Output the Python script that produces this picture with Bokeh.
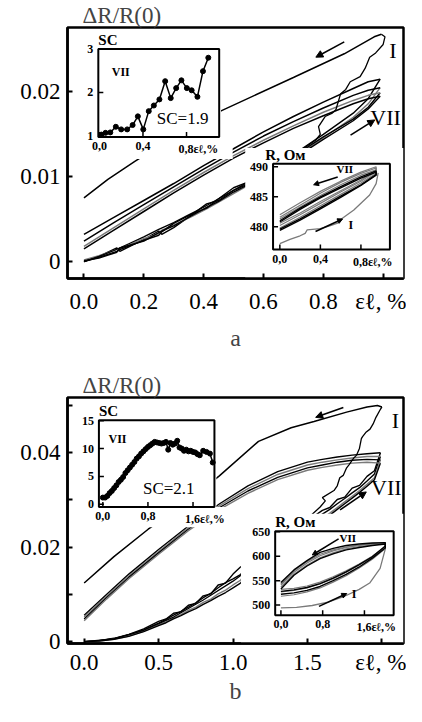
import math
from bokeh.plotting import figure
from bokeh.layouts import column
from bokeh.models import Range1d, Label, Arrow, NormalHead, FixedTicker
from bokeh.embed import file_html
from bokeh.resources import INLINE
from bokeh.core.properties import value

SERIF = "Liberation Serif"

# ===================== DATA: panel a =====================
A_X_TICKS = [0.0, 0.2, 0.4, 0.6, 0.8, 1.0]
A_X_LABELS = ["0.0", "0.2", "0.4", "0.6", "0.8", "εℓ, %"]
A_Y_TICKS = [0.0, 0.01, 0.02]
A_Y_LABELS = ["0", "0.01", "0.02"]

A_LOAD_I_X = [0.0, 0.05, 0.1, 0.15, 0.2, 0.25, 0.3, 0.35, 0.4, 0.45, 0.5, 0.6, 0.7, 0.774, 0.79,
              0.784, 0.806, 0.83, 0.842, 0.858, 0.875, 0.890, 0.923, 0.94, 0.955, 0.975, 1.0, 1.006, 0.994]
A_LOAD_I_Y = [0.0, 0.0006, 0.0013, 0.0021, 0.0029, 0.0038, 0.0046, 0.0055, 0.0064, 0.0074, 0.0084, 0.0104,
              0.0125, 0.0143, 0.0150, 0.0159, 0.0171, 0.0175, 0.0179, 0.0198, 0.0203, 0.0212, 0.0218, 0.0228,
              0.0241, 0.0246, 0.0256, 0.0265, 0.0268]
A_UNLOAD_I_X = [0.994, 0.97, 0.87, 0.7, 0.46, 0.3, 0.17, 0.08, 0.0]
A_UNLOAD_I_Y = [0.0268, 0.0265, 0.0245, 0.0217, 0.0178, 0.0147, 0.0118, 0.0097, 0.0075]

A_UNLOAD_X = [0.99, 0.95, 0.9, 0.8, 0.7, 0.6, 0.5, 0.4, 0.3, 0.2, 0.1, 0.0]
A_UNLOAD_II_Y = [0.0215, 0.0212, 0.0204, 0.0188, 0.0171, 0.0153, 0.0133, 0.0113, 0.0092, 0.0072, 0.0052, 0.0032]
A_UNLOAD_III_Y = [0.0205, 0.0202, 0.0196, 0.0181, 0.0165, 0.0148, 0.0129, 0.0109, 0.0088, 0.0067, 0.0046, 0.0024]
A_UNLOAD_V_Y = [0.0199, 0.0196, 0.0190, 0.0176, 0.0160, 0.0143, 0.0125, 0.0105, 0.0084, 0.0062, 0.0040, 0.0018]
A_UNLOAD_VII_Y = [0.0195, 0.0192, 0.0186, 0.0172, 0.0157, 0.0140, 0.0122, 0.0102, 0.0081, 0.0059, 0.0037, 0.0015]

A_LOAD_X = [0.0, 0.05, 0.11, 0.12, 0.2, 0.25, 0.26, 0.3, 0.36, 0.41, 0.45, 0.5, 0.55, 0.6, 0.7, 0.8, 0.9, 0.95, 0.99]
A_LOAD_II_Y = [0.0, 0.0006, 0.0016, 0.0012, 0.0026, 0.0036, 0.0032, 0.0040, 0.0055, 0.0068, 0.0072, 0.0084,
               0.0092, 0.0104, 0.0126, 0.0150, 0.0175, 0.0192, 0.0215]
A_LOAD_III_Y = [0.0002, 0.0007, 0.0014, 0.0015, 0.0027, 0.0033, 0.0037, 0.0043, 0.0053, 0.0062, 0.0070, 0.0080,
                0.0090, 0.0100, 0.0122, 0.0146, 0.0170, 0.0186, 0.0205]
A_LOAD_V_Y = [0.0, 0.0005, 0.0012, 0.0014, 0.0025, 0.0031, 0.0035, 0.0045, 0.0056, 0.0063, 0.0074, 0.0087,
              0.0094, 0.0102, 0.0124, 0.0147, 0.0168, 0.0182, 0.0199]
A_LOAD_VII_Y = [0.0001, 0.0004, 0.0011, 0.0016, 0.0024, 0.0034, 0.0036, 0.0042, 0.0054, 0.0064, 0.0071, 0.0082,
                0.0091, 0.0099, 0.0121, 0.0144, 0.0166, 0.0180, 0.0195]

# inset a1: SC
SCA_X = [0.018, 0.056, 0.10, 0.151, 0.20, 0.255, 0.305, 0.353, 0.403, 0.453, 0.50, 0.551, 0.604, 0.655,
         0.705, 0.753, 0.803, 0.847, 0.90, 0.951, 1.0]
SCA_Y = [1.03, 1.07, 1.08, 1.21, 1.15, 1.15, 1.25, 1.45, 1.15, 1.57, 1.70, 1.84, 2.26, 1.87, 2.10, 2.28,
         2.10, 2.05, 1.90, 2.49, 2.80]
SCA_X_TICKS = [0.0, 0.4, 0.8]
SCA_X_LABELS = ["0,0", "0,4", "0,8εℓ,%"]
SCA_Y_TICKS = [1, 2, 3]
SCA_Y_LABELS = ["1", "2", "3"]

# inset a2: R, Ohm
RA_X = [0.0, 0.2, 0.4, 0.6, 0.8, 0.95, 0.95, 0.8, 0.6, 0.4, 0.2, 0.0]
RA_G1_Y = [480.2, 482.0, 483.9, 485.8, 487.6, 489.2, 489.8, 488.9, 487.4, 485.6, 483.6, 481.6]
RA_G2_Y = [479.8, 481.6, 483.5, 485.4, 487.3, 488.9, 489.5, 488.6, 487.0, 485.2, 483.3, 481.3]
RA_G3_Y = [480.6, 482.3, 484.2, 486.0, 487.8, 489.4, 490.0, 489.1, 487.6, 485.9, 484.0, 482.0]
RA_K1_Y = [479.4, 481.1, 483.0, 484.9, 486.9, 488.6, 489.1, 488.1, 486.5, 484.8, 482.9, 480.8]
RA_K2_Y = [479.6, 481.3, 483.2, 485.1, 487.0, 488.7, 489.3, 488.3, 486.7, 485.0, 483.1, 481.0]
RA_I_X = [0.0, 0.1, 0.2, 0.25, 0.27, 0.4, 0.5, 0.57, 0.6, 0.73, 0.886, 0.95, 0.97]
RA_I_Y = [477.2, 477.9, 478.5, 478.9, 479.5, 479.7, 480.2, 480.6, 481.2, 482.8, 485.3, 487.2, 489.0]
RA_X_TICKS = [0.0, 0.4, 0.8]
RA_X_LABELS = ["0,0", "0,4", "0,8εℓ,%"]
RA_Y_TICKS = [480, 485, 490]
RA_Y_LABELS = ["480", "485", "490"]

# ===================== DATA: panel b =====================
B_X_TICKS = [0.0, 0.5, 1.0, 1.5, 2.0]
B_X_LABELS = ["0.0", "0.5", "1.0", "1.5", "εℓ, %"]
B_Y_TICKS = [0.0, 0.01, 0.02, 0.03, 0.04, 0.05]
B_Y_LABELS = ["0", "", "0.02", "", "0.04", ""]

B_LOAD_X = [0.0, 0.1, 0.2, 0.3, 0.4, 0.5, 0.55, 0.6, 0.65, 0.7, 0.75, 0.8, 0.85, 0.9, 0.95, 1.0, 1.05, 1.1,
            1.2, 1.3, 1.4, 1.5, 1.6, 1.65, 1.7, 1.75, 1.8, 1.85, 1.9, 1.95, 1.99]
B_LOAD_II_Y = [0.0, 0.0002, 0.0007, 0.0015, 0.0027, 0.0043, 0.0048, 0.0060, 0.0063, 0.0077, 0.0081, 0.0097,
               0.0101, 0.0120, 0.0124, 0.0143, 0.0158, 0.0168, 0.0190, 0.0212, 0.0234, 0.0256, 0.0278, 0.0284,
               0.0301, 0.0306, 0.0325, 0.0331, 0.0350, 0.0362, 0.0400]
B_LOAD_III_Y = [0.0, 0.0002, 0.0006, 0.0014, 0.0025, 0.0039, 0.0047, 0.0056, 0.0064, 0.0073, 0.0082, 0.0093,
                0.0102, 0.0114, 0.0125, 0.0133, 0.0142, 0.0158, 0.0182, 0.0204, 0.0226, 0.0248, 0.0270, 0.0280,
                0.0292, 0.0303, 0.0315, 0.0326, 0.0340, 0.0355, 0.0392]
B_LOAD_V_Y = [0.0, 0.0001, 0.0005, 0.0012, 0.0022, 0.0036, 0.0042, 0.0050, 0.0057, 0.0066, 0.0073, 0.0083,
              0.0090, 0.0101, 0.0109, 0.0120, 0.0130, 0.0149, 0.0171, 0.0193, 0.0215, 0.0238, 0.0261, 0.0272,
              0.0284, 0.0296, 0.0308, 0.0320, 0.0333, 0.0347, 0.0385]
B_LOAD_VII_Y = [0.0, 0.0001, 0.0005, 0.0011, 0.0021, 0.0034, 0.0040, 0.0048, 0.0055, 0.0063, 0.0070, 0.0079,
                0.0087, 0.0096, 0.0104, 0.0114, 0.0124, 0.0145, 0.0167, 0.0189, 0.0211, 0.0234, 0.0257, 0.0268,
                0.0280, 0.0292, 0.0304, 0.0316, 0.0329, 0.0343, 0.0378]

B_LOAD_I_X = [0.0, 0.2, 0.4, 0.6, 0.8, 1.0, 1.2, 1.4, 1.585, 1.62, 1.60, 1.678, 1.70, 1.717, 1.74, 1.763,
              1.78, 1.809, 1.83, 1.849, 1.862, 1.87, 1.895, 1.92, 1.941, 1.96, 1.99, 2.0]
B_LOAD_I_Y = [0.0, 0.0006, 0.0024, 0.0052, 0.0088, 0.0128, 0.0175, 0.0232, 0.0285, 0.0298, 0.0305, 0.0320,
              0.0330, 0.0347, 0.0352, 0.0368, 0.0375, 0.0388, 0.0395, 0.0409, 0.0430, 0.0434, 0.0444, 0.0450,
              0.0461, 0.0475, 0.0492, 0.0497]
B_UNLOAD_I_X = [2.0, 1.97, 1.9, 1.763, 1.544, 1.39, 1.171, 0.908, 0.7, 0.43, 0.2, 0.0]
B_UNLOAD_I_Y = [0.0497, 0.0500, 0.0497, 0.0486, 0.0466, 0.0453, 0.0424, 0.0351, 0.0298, 0.0238, 0.0180, 0.0124]

B_UNLOAD_X = [1.99, 1.9, 1.8, 1.7, 1.6, 1.5, 1.3, 1.1, 0.91, 0.7, 0.5, 0.3, 0.15, 0.0]
B_UNLOAD_II_Y = [0.0400, 0.0398, 0.0395, 0.0391, 0.0386, 0.0380, 0.0360, 0.0330, 0.0292, 0.0245, 0.0195, 0.0143, 0.0100, 0.0056]
B_UNLOAD_III_Y = [0.0392, 0.0392, 0.0389, 0.0385, 0.0380, 0.0374, 0.0354, 0.0324, 0.0288, 0.0241, 0.0191, 0.0139, 0.0096, 0.0052]
B_UNLOAD_V_Y = [0.0385, 0.0386, 0.0384, 0.0380, 0.0374, 0.0368, 0.0348, 0.0319, 0.0284, 0.0238, 0.0188, 0.0136, 0.0093, 0.0048]
B_UNLOAD_VII_Y = [0.0378, 0.0380, 0.0378, 0.0374, 0.0369, 0.0363, 0.0343, 0.0314, 0.0280, 0.0235, 0.0185, 0.0133, 0.0090, 0.0044]

# inset b1: SC
SCB_X = [0.00, 0.04, 0.08, 0.12, 0.16, 0.20, 0.24, 0.28, 0.32, 0.36, 0.40, 0.44, 0.48, 0.52, 0.56, 0.60,
         0.64, 0.68, 0.72, 0.76, 0.80, 0.84, 0.88, 0.92, 0.96, 1.00, 1.04, 1.08, 1.12, 1.16, 1.20, 1.24,
         1.28, 1.32, 1.36, 1.40, 1.44, 1.48, 1.52, 1.56, 1.60, 1.64, 1.68, 1.72, 1.78, 1.84, 1.90, 1.95]
SCB_Y = [1.2, 1.2, 1.5, 2.0, 2.4, 2.9, 3.4, 4.0, 4.4, 4.9, 5.6, 6.1, 6.6, 7.1, 7.6, 8.2, 8.6, 9.1, 9.5, 9.9,
         10.3, 10.6, 10.9, 11.2, 11.1, 11.0, 10.9, 11.0, 11.2, 9.8, 11.0, 10.7, 10.9, 11.4, 10.2, 10.0, 9.6,
         9.8, 9.5, 9.6, 9.4, 9.3, 9.0, 8.8, 9.6, 9.4, 9.1, 7.5]
SCB_X_TICKS = [0.0, 0.8, 1.6]
SCB_X_LABELS = ["0,0", "0,8", "1,6εℓ,%"]
SCB_Y_TICKS = [0, 5, 10, 15]
SCB_Y_LABELS = ["0", "5", "10", "15"]

# inset b2: R, Ohm
RB_X = [0.0, 0.25, 0.5, 0.75, 1.0, 1.25, 1.5, 1.75, 2.0, 2.0, 1.75, 1.5, 1.25, 1.0, 0.75, 0.5, 0.25, 0.0]
RB_K1_Y = [522, 525, 530, 538, 550, 563, 578, 596, 617, 628, 627, 625, 622, 616, 608, 591, 572, 546]
RB_G2_Y = [527, 530, 535, 543, 554, 567, 582, 598, 619, 627, 625, 622, 618, 611, 601, 586, 567, 541]
RB_G3_Y = [532, 534, 539, 547, 558, 570, 584, 600, 620, 626, 623, 620, 615, 607, 597, 582, 563, 537]
RB_G4_Y = [518, 521, 527, 535, 547, 560, 576, 594, 616, 627, 626, 623, 619, 613, 604, 589, 570, 543]
RB_K5_Y = [528, 531, 536, 544, 555, 568, 583, 599, 621, 625, 622, 618, 613, 605, 595, 580, 561, 533]
RB_I_X = [0.0, 0.3, 0.6, 0.9, 1.2, 1.5, 1.7, 1.9, 2.0]
RB_I_Y = [494, 495, 499, 506, 517, 532, 545, 575, 615]
RB_X_TICKS = [0.0, 0.8, 1.6]
RB_X_LABELS = ["0,0", "0,8", "1,6εℓ,%"]
RB_Y_TICKS = [500, 550, 600, 650]
RB_Y_LABELS = ["500", "550", "600", "650"]

# ===================== LAYOUT (positions, not data) =====================
BLACK = "black"
GRAY = "#7a7a7a"


def main_fig(height, xr, yr, bl, bt, bb, xt, xl, yt, yl, letter, lab_standoff, axl_standoff):
    p = figure(width=406, height=height, x_range=Range1d(*xr), y_range=Range1d(*yr),
               output_backend="svg", toolbar_location=None,
               min_border_left=bl, min_border_right=3, min_border_top=bt, min_border_bottom=bb,
               title="ΔR/R(0)")
    p.title.text_font = SERIF
    p.title.text_font_size = "23px"
    p.title.text_font_style = "normal"
    p.title.align = "left"
    p.title.offset = 15
    p.title.standoff = 0
    p.grid.visible = False
    p.outline_line_color = BLACK
    p.outline_line_width = 2.5
    p.outline_line_alpha = 1
    p.background_fill_color = "white"
    p.border_fill_color = "white"
    for ax in (p.xaxis[0], p.yaxis[0]):
        ax.axis_line_width = 2.5
        ax.major_tick_line_width = 2
        ax.major_tick_in = 5
        ax.major_tick_out = 0
        ax.minor_tick_line_color = None
        ax.major_label_text_font = SERIF
        ax.major_label_text_font_size = "23px"
        ax.major_label_text_color = BLACK
    p.xaxis.ticker = FixedTicker(ticks=xt)
    p.xaxis.major_label_overrides = dict(zip(xt, xl))
    p.yaxis.ticker = FixedTicker(ticks=yt)
    p.yaxis.major_label_overrides = dict(zip(yt, yl))
    p.xaxis.major_label_standoff = lab_standoff
    p.yaxis.major_label_standoff = 7
    p.xaxis.axis_label = letter
    p.xaxis.axis_label_text_font = SERIF
    p.xaxis.axis_label_text_font_size = "24px"
    p.xaxis.axis_label_text_font_style = "normal"
    p.xaxis.axis_label_standoff = axl_standoff
    return p


def white_box(p, box):
    p.quad(left=[box[0]], right=[box[1]], bottom=[box[2]], top=[box[3]],
           fill_color="white", line_color=None)


def make_inset(p, src_x, src_y, tgt_x, tgt_y):
    xy = p.subplot(x_source=Range1d(*src_x), y_source=Range1d(*src_y),
                   x_target=Range1d(*tgt_x), y_target=Range1d(*tgt_y))
    m = getattr(xy, "coordinates", None)
    if m is None:
        m = xy._coordinates
    return xy, m


def inset_axes(xy, src_x, src_y, xt, xl, yt, yl, title, title_x, fsize="12px"):
    nx, ny = len(xt), len(yt)
    xy.quad(left=[src_x[0]], right=[src_x[1]], bottom=[src_y[0]], top=[src_y[1]],
            fill_color=None, line_color=BLACK, line_width=2)
    xy.ray(x=xt, y=[src_y[0]] * nx, length=5, angle=math.pi / 2, length_units="screen",
           line_color=BLACK, line_width=1.5)
    xy.ray(x=[src_x[0]] * ny, y=yt, length=5, angle=0.0, length_units="screen",
           line_color=BLACK, line_width=1.5)
    common = dict(text_font=value(SERIF), text_font_size=fsize, text_font_style="bold", text_color=BLACK)
    xy.text(x=xt[:-1], y=[src_y[0]] * (nx - 1), text=xl[:-1], text_align="center",
            text_baseline="top", y_offset=5, **common)
    xy.text(x=[xt[-1]], y=[src_y[0]], text=[xl[-1]], text_align="left",
            text_baseline="top", y_offset=5, x_offset=-8, **common)
    xy.text(x=[src_x[0]] * ny, y=yt, text=yl, text_align="right", text_baseline="middle",
            x_offset=-5, **common)
    xy.text(x=[title_x], y=[src_y[1]], text=[title], text_align="left", text_baseline="bottom",
            y_offset=-1, text_font=value(SERIF), text_font_size="15px", text_font_style="bold",
            text_color=BLACK)


def main_label(p, x, y, txt):
    p.add_layout(Label(x=x, y=y, text=txt, text_font=SERIF, text_font_size="22px",
                       text_align="center", text_baseline="middle", text_color=BLACK))


def main_arrow(p, xs, ys, xe, ye, coords=None, size=7):
    kw = dict(end=NormalHead(size=size, fill_color=BLACK, line_color=BLACK, line_width=1),
              x_start=xs, y_start=ys, x_end=xe, y_end=ye, line_width=1.6, line_color=BLACK)
    if coords is not None:
        kw["coordinates"] = coords
    p.add_layout(Arrow(**kw))


# ===================== PANEL a =====================
pa = main_fig(353, (-0.055, 1.068), (-0.002, 0.0276), 62, 27, 73,
              A_X_TICKS, A_X_LABELS, A_Y_TICKS, A_Y_LABELS, "a", 10, 8)

for ys, col in [(A_LOAD_II_Y, BLACK), (A_LOAD_III_Y, GRAY), (A_LOAD_V_Y, BLACK), (A_LOAD_VII_Y, BLACK)]:
    pa.line(A_LOAD_X, ys, line_color=col, line_width=1.4)
for ys, col in [(A_UNLOAD_II_Y, BLACK), (A_UNLOAD_III_Y, BLACK), (A_UNLOAD_V_Y, GRAY), (A_UNLOAD_VII_Y, BLACK)]:
    pa.line(A_UNLOAD_X, ys, line_color=col, line_width=1.5)
pa.line(A_LOAD_I_X, A_LOAD_I_Y, line_color=BLACK, line_width=1.3)
pa.line(A_UNLOAD_I_X, A_UNLOAD_I_Y, line_color=BLACK, line_width=1.5)

main_label(pa, 1.033, 0.0249, "I")
main_label(pa, 1.008, 0.0170, "VII")
main_arrow(pa, 0.870, 0.0259, 0.775, 0.0241)
main_arrow(pa, 0.891, 0.0149, 0.972, 0.0167)

# inset a1 (SC)
white_box(pa, (-0.004, 0.458, 0.0144, 0.0268))
white_box(pa, (-0.004, 0.497, 0.0121, 0.0147))
sca_sx, sca_sy = (-0.01, 1.1), (0.977, 3.0)
xy1, m1 = make_inset(pa, sca_sx, sca_sy, (0.048, 0.452), (0.0147, 0.02506))
xy1.line(SCA_X, SCA_Y, line_color=BLACK, line_width=1.5)
xy1.scatter(SCA_X, SCA_Y, size=5, color=BLACK)
inset_axes(xy1, sca_sx, sca_sy, SCA_X_TICKS, SCA_X_LABELS, SCA_Y_TICKS, SCA_Y_LABELS, "SC", -0.01)
xy1.text(x=[0.196], y=[2.47], text=["VII"], text_align="center", text_baseline="middle",
         text_font=value(SERIF), text_font_size="12px", text_font_style="bold")
xy1.text(x=[0.764], y=[1.39], text=["SC=1.9"], text_align="center", text_baseline="middle",
         text_font=value(SERIF), text_font_size="17px")

# inset a2 (R)
white_box(pa, (0.539, 1.068, -0.002, 0.0134))
ra_sx, ra_sy = (-0.067, 1.086), (476.2, 490.5)
xy2, m2 = make_inset(pa, ra_sx, ra_sy, (0.632, 1.0226), (0.00141, 0.01153))
for ys in (RA_G1_Y, RA_G2_Y, RA_G3_Y):
    xy2.line(RA_X, ys, line_color=GRAY, line_width=1.2)
for ys in (RA_K1_Y, RA_K2_Y):
    xy2.line(RA_X, ys, line_color=BLACK, line_width=1.4)
xy2.line(RA_I_X, RA_I_Y, line_color=GRAY, line_width=1.3)
inset_axes(xy2, ra_sx, ra_sy, RA_X_TICKS, RA_X_LABELS, RA_Y_TICKS, RA_Y_LABELS, "R, Ом", -0.143)
xy2.text(x=[0.64], y=[489.6], text=["VII"], text_align="center", text_baseline="middle",
         text_font=value(SERIF), text_font_size="11px", text_font_style="bold")
xy2.text(x=[0.70], y=[480.3], text=["I"], text_align="center", text_baseline="middle",
         text_font=value(SERIF), text_font_size="12px", text_font_style="bold")
main_arrow(pa, 0.571, 488.3, 0.333, 487.0, coords=m2, size=5)
main_arrow(pa, 0.352, 479.2, 0.619, 481.3, coords=m2, size=5)

# ===================== PANEL b =====================
pb = main_fig(353, (-0.112, 2.145), (-0.0004, 0.0517), 67, 44, 61,
              B_X_TICKS, B_X_LABELS, B_Y_TICKS, B_Y_LABELS, "b", 6, 0)

for ys, col in [(B_LOAD_II_Y, BLACK), (B_LOAD_III_Y, BLACK), (B_LOAD_V_Y, GRAY), (B_LOAD_VII_Y, BLACK)]:
    pb.line(B_LOAD_X, ys, line_color=col, line_width=1.4)
for ys, col in [(B_UNLOAD_II_Y, BLACK), (B_UNLOAD_III_Y, GRAY), (B_UNLOAD_V_Y, BLACK), (B_UNLOAD_VII_Y, GRAY)]:
    pb.line(B_UNLOAD_X, ys, line_color=col, line_width=1.4)
pb.line(B_LOAD_I_X, B_LOAD_I_Y, line_color=BLACK, line_width=1.3)
pb.line(B_UNLOAD_I_X, B_UNLOAD_I_Y, line_color=BLACK, line_width=1.5)

main_label(pb, 2.09, 0.0468, "I")
main_label(pb, 2.03, 0.0327, "VII")
main_arrow(pb, 1.741, 0.0496, 1.555, 0.0475)
main_arrow(pb, 1.719, 0.0279, 1.895, 0.0317)

# inset b1 (SC)
white_box(pb, (-0.053, 0.888, 0.0280, 0.0504))
white_box(pb, (-0.053, 0.980, 0.0242, 0.0285))
scb_sx, scb_sy = (-0.07, 1.98), (-0.5, 15.1)
xy3, m3 = make_inset(pb, scb_sx, scb_sy, (0.099, 0.875), (0.0285, 0.0469))
xy3.line(SCB_X, SCB_Y, line_color=BLACK, line_width=1.5)
xy3.scatter(SCB_X, SCB_Y, size=5, color=BLACK)
inset_axes(xy3, scb_sx, scb_sy, SCB_X_TICKS, SCB_X_LABELS, SCB_Y_TICKS, SCB_Y_LABELS, "SC", -0.07)
xy3.text(x=[0.26], y=[11.75], text=["VII"], text_align="center", text_baseline="middle",
         text_font=value(SERIF), text_font_size="12px", text_font_style="bold")
xy3.text(x=[1.17], y=[2.75], text=["SC=2.1"], text_align="center", text_baseline="middle",
         text_font=value(SERIF), text_font_size="17px")

# inset b2 (R)
white_box(pb, (1.053, 2.145, -0.0004, 0.0271))
rb_sx, rb_sy = (-0.11, 2.16), (479.0, 651.0)
xy4, m4 = make_inset(pb, rb_sx, rb_sy, (1.283, 2.079), (0.00558, 0.02335))
for ys in (RB_G2_Y, RB_G3_Y, RB_G4_Y):
    xy4.line(RB_X, ys, line_color=GRAY, line_width=1.2)
for ys in (RB_K1_Y, RB_K5_Y):
    xy4.line(RB_X, ys, line_color=BLACK, line_width=1.4)
xy4.line(RB_I_X, RB_I_Y, line_color=GRAY, line_width=1.3)
inset_axes(xy4, rb_sx, rb_sy, RB_X_TICKS, RB_X_LABELS, RB_Y_TICKS, RB_Y_LABELS, "R, Ом", -0.11)
xy4.text(x=[1.28], y=[638], text=["VII"], text_align="center", text_baseline="middle",
         text_font=value(SERIF), text_font_size="11px", text_font_style="bold")
xy4.text(x=[1.40], y=[523.5], text=["I"], text_align="center", text_baseline="middle",
         text_font=value(SERIF), text_font_size="12px", text_font_style="bold")
main_arrow(pb, 1.105, 635.5, 0.60, 602.6, coords=m4, size=5)
main_arrow(pb, 0.729, 497.2, 1.262, 523.5, coords=m4, size=5)

layout = column(pa, pb)
open("out.html", "w").write(file_html(layout, INLINE))
